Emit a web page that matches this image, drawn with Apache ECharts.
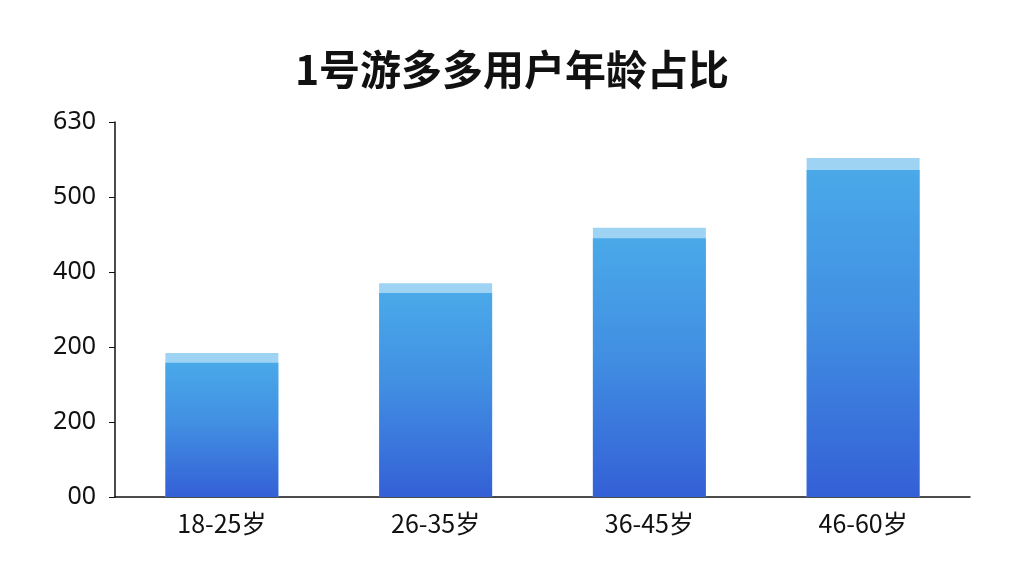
<!DOCTYPE html>
<html>
<head>
<meta charset="utf-8">
<script src="https://cdn.jsdelivr.net/npm/echarts@6/dist/echarts.min.js"></script>
<style>
html,body{margin:0;padding:0;background:#fff;}
#chart{width:1024px;height:576px;}
</style>
</head>
<body>
<div id="chart"></div>
<script>
const title = '1号游多多用户年龄占比';
const categories = ['18-25岁', '26-35岁', '36-45岁', '46-60岁'];
const barValues = [179, 272, 345, 436];
const crestValues = [192, 285, 359, 452];
const yTickLabels = ['00', '200', '200', '400', '500', '630'];

const chart = echarts.init(document.getElementById('chart'));
chart.setOption({
  backgroundColor: '#ffffff',
  title: {
    text: title,
    left: 'center',
    top: 44,
    textStyle: {
      fontSize: 41,
      fontWeight: 'bold',
      color: '#111',
      fontFamily: '"Noto Sans CJK SC", "Noto Sans", sans-serif'
    }
  },
  grid: { left: 115, right: 54, top: 122, bottom: 79 },
  xAxis: {
    type: 'category',
    data: categories,
    axisLine: { show: true, lineStyle: { color: '#111', width: 1.5 } },
    axisTick: { show: false },
    axisLabel: {
      fontSize: 25,
      color: '#111',
      margin: 14,
      fontFamily: '"Noto Sans CJK SC", "Noto Sans", sans-serif'
    }
  },
  yAxis: {
    type: 'value',
    min: 0,
    max: 500,
    interval: 100,
    axisLine: { show: true, lineStyle: { color: '#111', width: 1.5 } },
    axisTick: { show: true, length: 6, lineStyle: { color: '#111' } },
    splitLine: { show: false },
    axisLabel: {
      fontSize: 25,
      color: '#111',
      margin: 19,
      fontFamily: '"Noto Sans", "Noto Sans CJK SC", sans-serif',
      formatter: function (v) { return yTickLabels[Math.round(v / 100)]; }
    }
  },
  series: [
    {
      type: 'bar',
      data: crestValues,
      barWidth: 113,
      barGap: '-100%',
      z: 1,
      itemStyle: { color: '#9fd3f3' },
      silent: true
    },
    {
      type: 'bar',
      data: barValues,
      barWidth: 113,
      z: 2,
      itemStyle: {
        color: new echarts.graphic.LinearGradient(0, 0, 0, 1, [
          { offset: 0, color: '#4aa9e9' },
          { offset: 0.45, color: '#418fe2' },
          { offset: 1, color: '#3460d6' }
        ])
      }
    }
  ]
});
</script>
</body>
</html>
